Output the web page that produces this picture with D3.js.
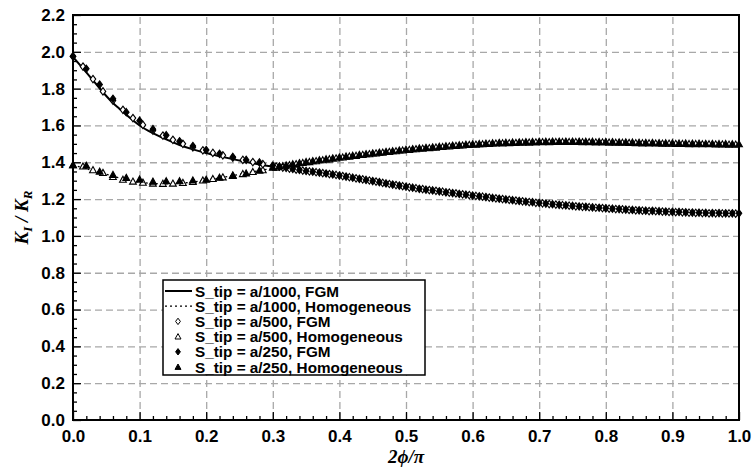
<!DOCTYPE html>
<html>
<head>
<meta charset="utf-8">
<script src="https://cdn.jsdelivr.net/npm/d3@7"></script>
<style>
  html, body { margin: 0; padding: 0; background: #fff; }
  svg { display: block; }
  .tick text { font-family: "Liberation Sans", Arial, sans-serif; font-weight: bold; font-size: 17px; fill: #000; }
</style>
</head>
<body>
<div id="chart"></div>
<script>
// ---------------- DATA ----------------
const xMajorTicks = [0.0, 0.1, 0.2, 0.3, 0.4, 0.5, 0.6, 0.7, 0.8, 0.9, 1.0];
const yMajorTicks = [0.0, 0.2, 0.4, 0.6, 0.8, 1.0, 1.2, 1.4, 1.6, 1.8, 2.0, 2.2];

const legendLabels = [
  "S_tip = a/1000, FGM",
  "S_tip = a/1000, Homogeneous",
  "S_tip = a/500, FGM",
  "S_tip = a/500, Homogeneous",
  "S_tip = a/250, FGM",
  "S_tip = a/250, Homogeneous"
];

// a/1000 (lines)
const phiLine = [0,0.01,0.02,0.03,0.04,0.05,0.06,0.07,0.08,0.09,0.10,0.12,0.14,0.16,0.18,0.20,0.22,0.24,0.26,0.28,0.30,0.32,0.34,0.36,0.38,0.40,0.45,0.50,0.55,0.60,0.65,0.70,0.75,0.80,0.85,0.90,0.95,1.00];
const fgm1000 = [1.972,1.930,1.888,1.845,1.802,1.760,1.722,1.690,1.658,1.628,1.600,1.558,1.524,1.494,1.470,1.450,1.433,1.417,1.402,1.388,1.376,1.365,1.353,1.345,1.335,1.325,1.295,1.264,1.240,1.217,1.196,1.177,1.161,1.148,1.137,1.129,1.123,1.121];
const hom1000 = [1.385,1.375,1.365,1.355,1.345,1.335,1.325,1.315,1.306,1.298,1.292,1.285,1.283,1.286,1.293,1.303,1.315,1.328,1.341,1.355,1.367,1.380,1.392,1.403,1.413,1.423,1.445,1.465,1.481,1.494,1.503,1.508,1.509,1.507,1.503,1.500,1.497,1.495];

// a/500 (open markers)
const phi500 = [0,0.015,0.03,0.045,0.06,0.075,0.09,0.105,0.12,0.135,0.15,0.165,0.18,0.195,0.21,0.225,0.24,0.255,0.27,0.285,
  0.305,0.315,0.325,0.335,0.345,0.355,0.365,0.375,0.385,0.395,0.405,0.415,0.425,0.435,0.445,0.455,0.465,0.475,0.485,0.495,
  0.505,0.515,0.525,0.535,0.545,0.555,0.565,0.575,0.585,0.595,0.605,0.615,0.625,0.635,0.645,0.655,0.665,0.675,0.685,0.695,
  0.705,0.715,0.725,0.735,0.745,0.755,0.765,0.775,0.785,0.795,0.805,0.815,0.825,0.835,0.845,0.855,0.865,0.875,0.885,0.895,
  0.905,0.915,0.925,0.935,0.945,0.955,0.965,0.975,0.985,0.995];
const fgm500 = [1.975,1.920,1.852,1.785,1.735,1.685,1.640,1.603,1.572,1.545,1.522,1.500,1.481,1.465,1.451,1.438,1.425,1.413,1.401,1.390,
  1.377,1.371,1.366,1.360,1.355,1.350,1.346,1.341,1.336,1.331,1.325,1.319,1.313,1.307,1.301,1.295,1.288,1.282,1.276,1.270,
  1.264,1.259,1.254,1.249,1.245,1.240,1.235,1.231,1.226,1.222,1.217,1.213,1.208,1.204,1.200,1.196,1.192,1.188,1.184,1.180,
  1.177,1.173,1.170,1.167,1.164,1.161,1.158,1.156,1.153,1.151,1.148,1.146,1.144,1.141,1.139,1.137,1.135,1.134,1.132,1.130,
  1.129,1.128,1.126,1.125,1.124,1.123,1.123,1.122,1.122,1.121];
const hom500 = [1.385,1.378,1.358,1.343,1.321,1.306,1.296,1.290,1.285,1.284,1.285,1.289,1.294,1.302,1.310,1.319,1.329,1.337,1.348,1.358,
  1.372,1.379,1.385,1.391,1.397,1.402,1.407,1.412,1.417,1.422,1.427,1.432,1.436,1.441,1.445,1.449,1.453,1.457,1.461,1.465,
  1.468,1.472,1.475,1.478,1.481,1.484,1.487,1.490,1.492,1.495,1.497,1.499,1.501,1.503,1.504,1.505,1.506,1.507,1.508,1.509,
  1.510,1.510,1.511,1.511,1.511,1.511,1.510,1.510,1.509,1.509,1.508,1.507,1.507,1.506,1.505,1.504,1.504,1.503,1.502,1.502,
  1.501,1.501,1.500,1.500,1.499,1.499,1.498,1.498,1.497,1.497];

// a/250 (filled markers)
const phi250 = [0,0.02,0.04,0.06,0.08,0.10,0.12,0.14,0.16,0.18,0.20,0.22,0.24,0.26,0.28,
  0.30,0.31,0.32,0.33,0.34,0.35,0.36,0.37,0.38,0.39,0.40,0.41,0.42,0.43,0.44,0.45,0.46,0.47,0.48,0.49,
  0.50,0.51,0.52,0.53,0.54,0.55,0.56,0.57,0.58,0.59,0.60,0.61,0.62,0.63,0.64,0.65,0.66,0.67,0.68,0.69,
  0.70,0.71,0.72,0.73,0.74,0.75,0.76,0.77,0.78,0.79,0.80,0.81,0.82,0.83,0.84,0.85,0.86,0.87,0.88,0.89,
  0.90,0.91,0.92,0.93,0.94,0.95,0.96,0.97,0.98,0.99,1.00];
const fgm250 = [1.976,1.908,1.822,1.745,1.672,1.626,1.580,1.547,1.514,1.488,1.466,1.446,1.429,1.413,1.399,
  1.382,1.376,1.370,1.364,1.358,1.353,1.349,1.344,1.339,1.334,1.328,1.322,1.316,1.310,1.304,1.298,1.292,1.285,1.279,1.273,
  1.267,1.262,1.256,1.251,1.247,1.242,1.237,1.233,1.228,1.224,1.219,1.215,1.211,1.206,1.202,1.198,1.194,1.190,1.186,1.183,
  1.179,1.176,1.172,1.169,1.166,1.163,1.160,1.158,1.155,1.153,1.150,1.148,1.146,1.143,1.141,1.139,1.137,1.136,1.134,1.132,
  1.131,1.130,1.128,1.127,1.126,1.125,1.124,1.124,1.123,1.123,1.123];
const hom250 = [1.385,1.382,1.350,1.332,1.316,1.307,1.296,1.298,1.298,1.302,1.306,1.317,1.327,1.340,1.356,
  1.372,1.378,1.384,1.390,1.396,1.402,1.407,1.412,1.417,1.422,1.427,1.432,1.436,1.441,1.445,1.449,1.453,1.457,1.461,1.465,
  1.469,1.472,1.476,1.479,1.482,1.485,1.488,1.491,1.493,1.496,1.498,1.500,1.502,1.504,1.506,1.507,1.508,1.509,1.510,1.511,
  1.512,1.512,1.513,1.513,1.513,1.513,1.513,1.512,1.512,1.511,1.511,1.510,1.509,1.509,1.508,1.507,1.506,1.506,1.505,1.504,
  1.504,1.503,1.503,1.502,1.502,1.501,1.501,1.500,1.500,1.499,1.499];

// ---------------- CHART ----------------
const W = 754, H = 471;
const margin = { left: 73, right: 15, top: 15, bottom: 51 };
const iw = W - margin.left - margin.right;
const ih = H - margin.top - margin.bottom;

const svg = d3.select("#chart").append("svg").attr("width", W).attr("height", H);
const g = svg.append("g").attr("transform", `translate(${margin.left},${margin.top})`);

const x = d3.scaleLinear().domain([0, 1]).range([0, iw]);
const y = d3.scaleLinear().domain([0, 2.2]).range([ih, 0]);

// grid
const gx = g.append("g").attr("transform", `translate(0,${ih})`)
  .call(d3.axisBottom(x).tickValues(xMajorTicks.slice(1, -1)).tickSize(-ih).tickFormat(""));
const gy = g.append("g")
  .call(d3.axisLeft(y).tickValues(yMajorTicks.slice(1, -1)).tickSize(-iw).tickFormat(""));
[gx, gy].forEach(a => {
  a.select(".domain").remove();
  a.selectAll("line").attr("stroke", "#a8a8a8").attr("stroke-width", 1.3).attr("stroke-dasharray", "7,4");
});

// lines
const zip = (xs, ys) => xs.map((v, i) => [v, ys[i]]).filter(d => d[1] !== undefined);
const line = d3.line().x(d => x(d[0])).y(d => y(d[1])).curve(d3.curveMonotoneX);

g.append("path").datum(zip(phiLine, hom1000)).attr("d", line)
  .attr("fill", "none").attr("stroke", "#000").attr("stroke-width", 1.3).attr("stroke-dasharray", "2,3");
g.append("path").datum(zip(phiLine, fgm1000)).attr("d", line)
  .attr("fill", "none").attr("stroke", "#000").attr("stroke-width", 2);

// markers
const diamondPath = (s) => `M0,${-s}L${s*0.75},0L0,${s}L${-s*0.75},0Z`;
const triPath = (s) => `M0,${-s}L${s},${s*0.8}L${-s},${s*0.8}Z`;

function drawMarkers(data, pathStr, filled) {
  g.append("g").selectAll("path").data(data).join("path")
    .attr("transform", d => `translate(${x(d[0])},${y(d[1])})`)
    .attr("d", pathStr)
    .attr("fill", filled ? "#000" : "#fff")
    .attr("stroke", "#000").attr("stroke-width", 1.1);
}
drawMarkers(zip(phi500, hom500), triPath(3.4), false);
drawMarkers(zip(phi500, fgm500), diamondPath(3.7), false);
drawMarkers(zip(phi250, hom250), triPath(3.4), true);
drawMarkers(zip(phi250, fgm250), diamondPath(3.7), true);

// axes: major + minor ticks (inward)
const xMinor = d3.range(0, 101, 2).map(v => v / 100).filter(v => Math.round(v * 100) % 10 !== 0);
const yMinor = d3.range(0, 221, 5).map(v => v / 100).filter(v => Math.round(v * 100) % 20 !== 0);

function styleAxis(a) { a.select(".domain").remove(); a.selectAll("line").attr("stroke", "#000").attr("stroke-width", 1.3); }

const axB = g.append("g").attr("transform", `translate(0,${ih})`)
  .call(d3.axisBottom(x).tickValues(xMajorTicks).tickSize(-8).tickPadding(10).tickFormat(d3.format(".1f")));
styleAxis(axB);
const axBm = g.append("g").attr("transform", `translate(0,${ih})`)
  .call(d3.axisBottom(x).tickValues(xMinor).tickSize(-4).tickFormat(""));
styleAxis(axBm);
const axL = g.append("g")
  .call(d3.axisLeft(y).tickValues(yMajorTicks).tickSize(-8).tickPadding(8).tickFormat(d3.format(".1f")));
styleAxis(axL);
const axLm = g.append("g")
  .call(d3.axisLeft(y).tickValues(yMinor).tickSize(-4).tickFormat(""));
styleAxis(axLm);

// frame
g.append("rect").attr("x", 0).attr("y", 0).attr("width", iw).attr("height", ih)
  .attr("fill", "none").attr("stroke", "#000").attr("stroke-width", 2);

// axis titles
svg.append("text").attr("x", margin.left + iw / 2).attr("y", 463)
  .attr("text-anchor", "middle")
  .style("font-family", "'Liberation Serif', 'Times New Roman', serif")
  .style("font-weight", "bold").style("font-style", "italic").style("font-size", "19px")
  .text("2\u03D5/\u03C0");

const yt = svg.append("text")
  .attr("transform", `translate(28,${margin.top + ih / 2}) rotate(-90)`)
  .attr("text-anchor", "middle")
  .style("font-family", "'Liberation Serif', 'Times New Roman', serif")
  .style("font-weight", "bold").style("font-style", "italic").style("font-size", "19px");
yt.append("tspan").text("K");
yt.append("tspan").attr("dy", 4).style("font-size", "13px").text("I");
yt.append("tspan").attr("dy", -4).text(" / K");
yt.append("tspan").attr("dy", 4).style("font-size", "13px").text("R");

// legend
const lg = svg.append("g");
const lx = 163, ly = 280, lw = 262, lh = 95;
lg.append("rect").attr("x", lx).attr("y", ly).attr("width", lw).attr("height", lh)
  .attr("fill", "#fff").attr("stroke", "#000").attr("stroke-width", 1.5);
const rowY = i => 291 + i * 15.2;
legendLabels.forEach((lab, i) => {
  const cy = rowY(i);
  if (i === 0) lg.append("line").attr("x1", 165).attr("x2", 192).attr("y1", cy).attr("y2", cy).attr("stroke", "#000").attr("stroke-width", 2);
  if (i === 1) lg.append("line").attr("x1", 165).attr("x2", 192).attr("y1", cy).attr("y2", cy).attr("stroke", "#000").attr("stroke-width", 1.3).attr("stroke-dasharray", "2,3");
  if (i >= 2) {
    const p = (i % 2 === 0) ? diamondPath(3.2) : triPath(3);
    lg.append("path").attr("transform", `translate(178,${cy})`).attr("d", p)
      .attr("fill", i >= 4 ? "#000" : "#fff").attr("stroke", "#000").attr("stroke-width", 1);
  }
  lg.append("text").attr("x", 195).attr("y", cy).attr("dy", "0.36em")
    .style("font-family", "'Liberation Sans', Arial, sans-serif").style("font-weight", "bold").style("font-size", "15.3px")
    .text(lab);
});
</script>
</body>
</html>
